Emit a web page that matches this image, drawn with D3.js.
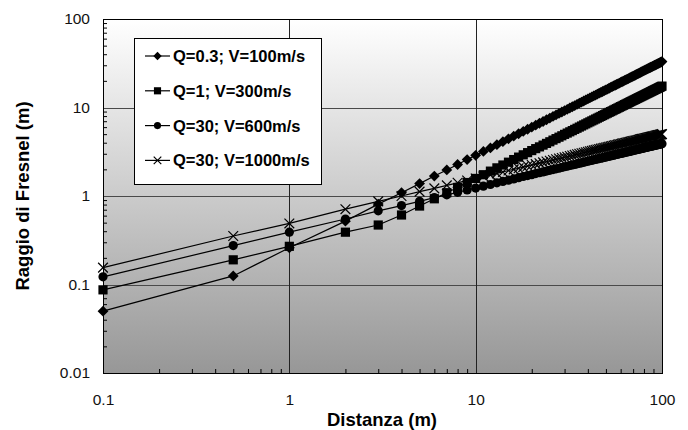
<!DOCTYPE html>
<html>
<head>
<meta charset="utf-8">
<script src="https://cdn.jsdelivr.net/npm/d3@7"></script>
<style>
	body { margin: 0; background: #fff; }
	svg { font-family: Arial, 'Liberation Sans', sans-serif; }
</style>
</head>
<body>
<div id="chart"></div>
<script>
// distances (m)
let distances = [0.1, 0.5, 1, 2, 3, 4, 5, 6, 7, 8, 9, 10,
	11, 12, 13, 14, 15, 16, 17, 18, 19, 20,
	21, 22, 23, 24, 25, 26, 27, 28, 29, 30,
	31, 32, 33, 34, 35, 36, 37, 38, 39, 40,
	41, 42, 43, 44, 45, 46, 47, 48, 49, 50,
	51, 52, 53, 54, 55, 56, 57, 58, 59, 60,
	61, 62, 63, 64, 65, 66, 67, 68, 69, 70,
	71, 72, 73, 74, 75, 76, 77, 78, 79, 80,
	81, 82, 83, 84, 85, 86, 87, 88, 89, 90,
	91, 92, 93, 94, 95, 96, 97, 98, 99, 100];

// raggio di Fresnel (m), one array per series
let q03_v100 = [0.05, 0.125, 0.26, 0.52, 0.81, 1.09, 1.38, 1.68, 1.97, 2.27, 2.58, 2.88,
	3.19, 3.49, 3.80, 4.11, 4.43, 4.74, 5.05, 5.37, 5.68, 6.00,
	6.32, 6.64, 6.95, 7.27, 7.60, 7.92, 8.24, 8.57, 8.89, 9.22,
	9.54, 9.87, 10.20, 10.52, 10.85, 11.18, 11.51, 11.84, 12.18, 12.51,
	12.84, 13.17, 13.50, 13.83, 14.17, 14.50, 14.83, 15.17, 15.50, 15.84,
	16.17, 16.51, 16.84, 17.18, 17.52, 17.85, 18.19, 18.53, 18.87, 19.21,
	19.55, 19.89, 20.23, 20.57, 20.91, 21.25, 21.59, 21.93, 22.27, 22.62,
	22.96, 23.30, 23.64, 23.98, 24.33, 24.68, 25.02, 25.37, 25.71, 26.06,
	26.40, 26.75, 27.09, 27.43, 27.79, 28.13, 28.48, 28.83, 29.17, 29.52,
	29.87, 30.21, 30.56, 30.91, 31.26, 31.60, 31.95, 32.30, 32.65, 33.0];

let q1_v300 = [0.087, 0.19, 0.27, 0.39, 0.47, 0.61, 0.77, 0.93, 1.09, 1.25, 1.42, 1.58,
	1.74, 1.91, 2.08, 2.24, 2.41, 2.58, 2.75, 2.92, 3.09, 3.26,
	3.43, 3.59, 3.76, 3.93, 4.10, 4.28, 4.45, 4.62, 4.79, 4.97,
	5.14, 5.31, 5.48, 5.66, 5.83, 6.01, 6.18, 6.36, 6.53, 6.71,
	6.88, 7.06, 7.23, 7.41, 7.58, 7.76, 7.93, 8.11, 8.29, 8.47,
	8.64, 8.82, 8.99, 9.17, 9.35, 9.53, 9.70, 9.88, 10.06, 10.24,
	10.41, 10.59, 10.77, 10.95, 11.13, 11.31, 11.48, 11.67, 11.85, 12.03,
	12.20, 12.38, 12.56, 12.74, 12.92, 13.10, 13.28, 13.46, 13.64, 13.82,
	14.00, 14.19, 14.37, 14.54, 14.72, 14.90, 15.09, 15.27, 15.45, 15.63,
	15.82, 15.99, 16.17, 16.36, 16.54, 16.71, 16.90, 17.08, 17.26, 17.44];

let q30_v600 = [0.122, 0.275, 0.39, 0.55, 0.68, 0.78, 0.87, 0.96, 1.03, 1.10, 1.17, 1.23,
	1.29, 1.35, 1.41, 1.46, 1.51, 1.56, 1.61, 1.66, 1.70, 1.74,
	1.79, 1.83, 1.87, 1.91, 1.95, 1.99, 2.03, 2.06, 2.10, 2.14,
	2.17, 2.21, 2.24, 2.27, 2.31, 2.34, 2.37, 2.40, 2.44, 2.47,
	2.50, 2.53, 2.56, 2.59, 2.62, 2.65, 2.67, 2.70, 2.73, 2.76,
	2.79, 2.81, 2.84, 2.87, 2.89, 2.92, 2.95, 2.97, 3.00, 3.02,
	3.05, 3.07, 3.10, 3.12, 3.14, 3.17, 3.19, 3.22, 3.24, 3.26,
	3.29, 3.31, 3.33, 3.36, 3.38, 3.40, 3.42, 3.44, 3.47, 3.49,
	3.51, 3.53, 3.55, 3.57, 3.60, 3.62, 3.64, 3.66, 3.68, 3.70,
	3.72, 3.74, 3.76, 3.78, 3.80, 3.82, 3.84, 3.86, 3.88, 3.90];

let q30_v1000 = [0.155, 0.353, 0.49, 0.71, 0.87, 1.00, 1.12, 1.22, 1.32, 1.41, 1.50, 1.58,
	1.66, 1.73, 1.80, 1.87, 1.94, 2.00, 2.06, 2.12, 2.18, 2.24,
	2.29, 2.35, 2.40, 2.45, 2.50, 2.55, 2.60, 2.65, 2.69, 2.74,
	2.78, 2.83, 2.87, 2.92, 2.96, 3.00, 3.04, 3.08, 3.12, 3.16,
	3.20, 3.24, 3.28, 3.32, 3.35, 3.39, 3.43, 3.46, 3.50, 3.54,
	3.57, 3.61, 3.64, 3.67, 3.71, 3.74, 3.77, 3.81, 3.84, 3.87,
	3.91, 3.94, 3.97, 4.00, 4.03, 4.06, 4.09, 4.12, 4.15, 4.18,
	4.21, 4.24, 4.27, 4.30, 4.33, 4.36, 4.39, 4.42, 4.44, 4.47,
	4.50, 4.53, 4.56, 4.58, 4.61, 4.64, 4.66, 4.69, 4.72, 4.74,
	4.77, 4.80, 4.82, 4.85, 4.87, 4.90, 4.92, 4.95, 4.97, 5.00];

let seriesNames  = ['Q=0.3; V=100m/s', 'Q=1; V=300m/s', 'Q=30; V=600m/s', 'Q=30; V=1000m/s'];
let seriesValues = [q03_v100, q1_v300, q30_v600, q30_v1000];
let seriesMarks  = ['diamond', 'square', 'circle', 'cross'];

let xTicks = [0.1, 1, 10, 100];
let yTicks = [0.01, 0.1, 1, 10, 100];

let width  = 688,
	height = 430,
	plot   = {left: 103, right: 662, top: 19, bottom: 373};

let svg = d3.select('#chart')
	.append('svg')
	.attr('width', width)
	.attr('height', height);

let x = d3.scaleLog()
	.domain([0.1, 100])
	.range([plot.left, plot.right]);

let y = d3.scaleLog()
	.domain([0.01, 100])
	.range([plot.bottom, plot.top]);

let gradient = svg.append('defs')
	.append('linearGradient')
	.attr('id', 'bg')
	.attr('x1', '0%').attr('y1', '0%')
	.attr('x2', '0%').attr('y2', '100%');
gradient.append('stop').attr('offset', '0%').attr('stop-color', '#ffffff');
gradient.append('stop').attr('offset', '100%').attr('stop-color', '#979797');

svg.append('rect')
	.attr('x', plot.left)
	.attr('y', plot.top)
	.attr('width', plot.right - plot.left)
	.attr('height', plot.bottom - plot.top)
	.style('fill', 'url(#bg)');

// major grid
svg.append('g').selectAll('line')
	.data(yTicks.slice(1, -1))
	.join('line')
	.attr('x1', plot.left).attr('x2', plot.right)
	.attr('y1', d => Math.round(y(d)) + 0.5).attr('y2', d => Math.round(y(d)) + 0.5)
	.attr('stroke', '#4a4a4a');

svg.append('g').selectAll('line')
	.data(xTicks.slice(1, -1))
	.join('line')
	.attr('y1', plot.top).attr('y2', plot.bottom)
	.attr('x1', d => Math.round(x(d)) + 0.5).attr('x2', d => Math.round(x(d)) + 0.5)
	.attr('stroke', '#222');

// minor ticks, inside the frame
let minorX = [], minorY = [];
[0.1, 1, 10].forEach(function(p) { for (let k = 2; k < 10; k++) minorX.push(p * k); });
[0.01, 0.1, 1, 10].forEach(function(p) { for (let k = 2; k < 10; k++) minorY.push(p * k); });

svg.append('g')
	.attr('transform', 'translate(0,' + plot.bottom + ')')
	.call(d3.axisBottom(x).tickValues(minorX).tickSize(-4).tickFormat(''))
	.call(g => g.select('.domain').remove());

svg.append('g')
	.attr('transform', 'translate(' + plot.left + ',0)')
	.call(d3.axisLeft(y).tickValues(minorY).tickSize(-4).tickFormat(''))
	.call(g => g.select('.domain').remove());

svg.append('rect')
	.attr('x', plot.left + 0.5)
	.attr('y', plot.top + 0.5)
	.attr('width', plot.right - plot.left)
	.attr('height', plot.bottom - plot.top)
	.attr('fill', 'none')
	.attr('stroke', '#000');

// tick labels
let xAxis = svg.append('g')
	.attr('transform', 'translate(0,' + plot.bottom + ')')
	.call(d3.axisBottom(x).tickValues(xTicks).tickSize(0).tickPadding(21).tickFormat(d3.format('~g')));
xAxis.select('.domain').remove();
xAxis.selectAll('text').attr('font-size', '15.5px').attr('font-family', 'Arial, Liberation Sans, sans-serif').attr('fill', '#111');

let yAxis = svg.append('g')
	.attr('transform', 'translate(' + plot.left + ',0)')
	.call(d3.axisLeft(y).tickValues(yTicks).tickSize(0).tickPadding(13).tickFormat(d3.format('~g')));
yAxis.select('.domain').remove();
yAxis.selectAll('text').attr('font-size', '15.5px').attr('font-family', 'Arial, Liberation Sans, sans-serif').attr('fill', '#111');

function marker(sel, type, s) {
	if (type === 'diamond') {
		sel.append('path').attr('d', 'M0,' + -s + 'L' + s + ',0L0,' + s + 'L' + -s + ',0Z').attr('fill', '#000');
	} else if (type === 'square') {
		sel.append('rect').attr('x', -s * 0.85).attr('y', -s * 0.85).attr('width', s * 1.7).attr('height', s * 1.7).attr('fill', '#000');
	} else if (type === 'circle') {
		sel.append('circle').attr('r', s * 0.85).attr('fill', '#000');
	} else {
		let c = s * 0.9;
		sel.append('path').attr('d', 'M' + -c + ',' + -c + 'L' + c + ',' + c + 'M' + -c + ',' + c + 'L' + c + ',' + -c)
			.attr('stroke', '#000').attr('stroke-width', 1.2).attr('fill', 'none');
	}
}

let line = d3.line()
	.x(d => x(d[0]))
	.y(d => y(d[1]));

seriesValues.forEach(function(vals, i) {
	let pts = distances.map((d, j) => [d, vals[j]]);
	let g = svg.append('g');

	g.append('path')
		.datum(pts)
		.attr('fill', 'none')
		.attr('stroke', '#000')
		.attr('stroke-width', 1.2)
		.attr('d', line);

	g.selectAll('g.pt')
		.data(pts)
		.join('g')
		.attr('class', 'pt')
		.attr('transform', d => 'translate(' + x(d[0]) + ',' + y(d[1]) + ')')
		.each(function() { marker(d3.select(this), seriesMarks[i], 5.4); });
});

// legend
let legend = svg.append('g');
legend.append('rect')
	.attr('x', 134.5).attr('y', 38.5)
	.attr('width', 187).attr('height', 146)
	.attr('fill', '#fff')
	.attr('stroke', '#000');

let rows = legend.selectAll('g.row')
	.data(seriesNames)
	.join('g')
	.attr('class', 'row')
	.attr('transform', (d, i) => 'translate(0,' + (56 + i * 34.8) + ')');

rows.append('line')
	.attr('x1', 145).attr('x2', 170)
	.attr('stroke', '#000')
	.attr('stroke-width', 1.2);

rows.each(function(d, i) {
	let m = d3.select(this).append('g').attr('transform', 'translate(157.5,0)');
	marker(m, seriesMarks[i], 4.2);
});

rows.append('text')
	.attr('x', 173)
	.attr('dy', '0.36em')
	.attr('font-size', '16.5px')
	.attr('font-weight', 'bold')
	.text(d => d);

// axis titles
svg.append('text')
	.attr('x', 382)
	.attr('y', 426)
	.attr('text-anchor', 'middle')
	.attr('font-size', '18.5px')
	.attr('font-weight', 'bold')
	.text('Distanza (m)');

svg.append('text')
	.attr('transform', 'translate(28.5,196) rotate(-90)')
	.attr('text-anchor', 'middle')
	.attr('font-size', '18.5px')
	.attr('font-weight', 'bold')
	.text('Raggio di Fresnel (m)');
</script>
</body>
</html>
